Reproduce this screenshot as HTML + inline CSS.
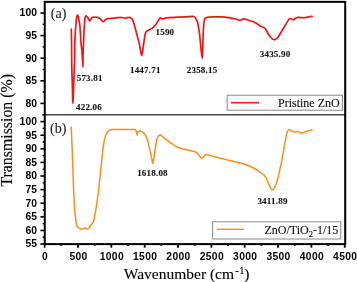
<!DOCTYPE html>
<html><head><meta charset="utf-8"><style>
html,body{margin:0;padding:0;background:#fff;}
body{width:357px;height:282px;overflow:hidden;}
svg{display:block;will-change:transform;}
.tk{font-family:"Liberation Sans",sans-serif;font-weight:bold;font-size:10.3px;letter-spacing:0.35px;fill:#000;}
.pk{font-family:"Liberation Serif",serif;font-weight:bold;font-size:9px;letter-spacing:0.2px;fill:#111;stroke:#111;stroke-width:0.1px;}
.pl{font-family:"Liberation Serif",serif;font-size:14px;fill:#222;stroke:#222;stroke-width:0.1px;}
.lg{font-family:"Liberation Serif",serif;font-size:12px;fill:#111;stroke:#111;stroke-width:0.12px;}
.ax{font-family:"Liberation Serif",serif;fill:#000;stroke:#000;stroke-width:0.12px;}
</style></head><body>
<svg width="357" height="282" viewBox="0 0 357 282">
<path d="M71.30,29.00 C71.35,31.50 71.53,38.17 71.60,44.00 C71.67,49.83 71.62,58.33 71.70,64.00 C71.78,69.67 71.98,74.00 72.10,78.00 C72.22,82.00 72.32,85.00 72.40,88.00 C72.48,91.00 72.52,93.42 72.60,96.00 C72.68,98.58 72.78,103.50 72.90,103.50 C73.02,103.50 73.18,98.58 73.30,96.00 C73.42,93.42 73.50,91.00 73.60,88.00 C73.70,85.00 73.78,81.33 73.90,78.00 C74.02,74.67 74.18,71.67 74.30,68.00 C74.42,64.33 74.52,60.00 74.60,56.00 C74.68,52.00 74.70,47.67 74.80,44.00 C74.90,40.33 75.02,37.25 75.20,34.00 C75.38,30.75 75.67,27.17 75.90,24.50 C76.13,21.83 76.35,19.57 76.60,18.00 C76.81,16.66 77.12,15.35 77.40,15.10 C77.68,14.85 78.09,15.78 78.30,16.50 C78.58,17.48 78.83,19.42 79.10,21.00 C79.37,22.58 79.68,24.00 79.90,26.00 C80.12,28.00 80.25,30.67 80.40,33.00 C80.55,35.33 80.65,37.83 80.80,40.00 C80.95,42.17 81.12,44.17 81.30,46.00 C81.48,47.83 81.72,49.00 81.90,51.00 C82.08,53.00 82.23,55.33 82.40,58.00 C82.57,60.67 82.80,67.00 82.90,67.00 C83.00,67.00 82.95,60.83 83.00,58.00 C83.05,55.17 83.13,52.00 83.20,50.00 C83.26,48.20 83.32,47.67 83.40,46.00 C83.48,44.33 83.60,42.50 83.70,40.00 C83.80,37.50 83.88,33.50 84.00,31.00 C84.12,28.50 84.25,27.08 84.40,25.00 C84.55,22.92 84.63,20.02 84.90,18.50 C85.12,17.25 85.53,16.07 86.00,15.90 C86.47,15.73 87.10,16.68 87.70,17.50 C88.30,18.32 89.05,20.58 89.60,20.80 C90.15,21.02 90.52,19.38 91.00,18.80 C91.48,18.22 91.57,17.51 92.50,17.30 C93.60,17.05 96.27,17.02 97.60,17.30 C98.93,17.58 99.57,18.28 100.50,19.00 C101.43,19.72 102.28,21.57 103.20,21.60 C104.12,21.63 105.07,19.72 106.00,19.20 C106.93,18.68 107.63,18.67 108.80,18.50 C109.97,18.33 111.12,18.40 113.00,18.20 C114.92,18.00 118.25,17.32 120.30,17.30 C122.35,17.28 123.77,18.10 125.30,18.10 C126.83,18.10 128.37,17.15 129.50,17.30 C130.63,17.45 131.34,17.83 132.10,19.00 C132.90,20.23 133.50,22.07 134.30,24.70 C135.13,27.45 136.25,32.28 137.10,35.50 C137.95,38.72 138.63,40.65 139.40,44.00 C140.17,47.35 141.00,55.60 141.70,55.60 C142.40,55.60 143.05,47.43 143.60,44.00 C144.15,40.57 144.57,37.07 145.00,35.00 C145.33,33.41 145.75,32.33 146.20,31.60 C146.62,30.91 147.07,30.93 147.70,30.60 C148.33,30.27 149.28,29.97 150.00,29.60 C150.72,29.23 151.33,28.92 152.00,28.40 C152.67,27.88 153.30,27.23 154.00,26.50 C154.70,25.77 155.53,24.92 156.20,24.00 C156.87,23.08 157.30,22.03 158.00,21.00 C158.70,19.97 159.63,18.15 160.40,17.80 C161.17,17.45 161.65,18.90 162.60,18.90 C163.55,18.90 164.46,17.98 166.10,17.80 C168.67,17.52 174.62,17.37 178.00,17.20 C181.38,17.03 183.83,16.92 186.40,16.80 C188.97,16.68 191.88,16.32 193.40,16.50 C194.53,16.64 194.85,16.97 195.50,17.90 C196.20,18.90 197.04,20.29 197.60,22.50 C198.27,25.12 199.00,29.85 199.50,33.60 C200.00,37.35 200.15,40.87 200.60,45.00 C201.05,49.13 201.83,58.40 202.20,58.40 C202.57,58.40 202.60,49.73 202.80,45.00 C203.00,40.27 203.20,33.75 203.40,30.00 C203.58,26.62 203.77,24.35 204.00,22.50 C204.21,20.85 204.30,19.77 204.80,18.90 C205.30,18.03 205.80,17.52 207.00,17.30 C208.78,16.97 213.05,16.97 215.50,16.90 C217.95,16.83 219.55,16.78 221.70,16.90 C223.85,17.02 226.43,17.32 228.40,17.60 C230.37,17.88 232.10,18.32 233.50,18.60 C234.90,18.88 235.73,19.02 236.80,19.30 C237.87,19.58 238.77,20.37 239.90,20.30 C241.03,20.23 242.15,18.90 243.60,18.90 C245.05,18.90 246.78,19.73 248.60,20.30 C250.42,20.87 252.53,21.35 254.50,22.30 C256.47,23.25 258.62,24.97 260.40,26.00 C262.18,27.03 263.93,27.25 265.20,28.50 C266.47,29.75 267.12,32.08 268.00,33.50 C268.88,34.92 269.73,36.08 270.50,37.00 C271.27,37.92 271.85,38.57 272.60,39.00 C273.35,39.43 274.17,39.80 275.00,39.60 C275.83,39.40 276.72,38.92 277.60,37.80 C278.73,36.37 280.40,33.30 281.80,31.00 C283.20,28.70 284.73,26.02 286.00,24.00 C287.27,21.98 288.47,19.75 289.40,18.90 C290.13,18.23 290.90,18.75 291.60,18.90 C292.30,19.05 292.85,19.93 293.60,19.80 C294.35,19.67 295.40,18.52 296.10,18.10 C296.80,17.68 297.10,17.38 297.80,17.30 C298.50,17.22 299.17,17.55 300.30,17.60 C301.55,17.65 303.90,17.72 305.30,17.60 C306.70,17.48 307.57,17.10 308.70,16.90 C309.83,16.70 311.53,16.48 312.10,16.40" fill="none" stroke="#f51414" stroke-width="1.7" stroke-linejoin="round" stroke-linecap="round"/>
<path d="M71.20,127.30 C71.37,131.08 71.92,142.88 72.20,150.00 C72.48,157.12 72.67,163.33 72.90,170.00 C73.13,176.67 73.35,184.17 73.60,190.00 C73.85,195.83 74.17,201.17 74.40,205.00 C74.62,208.60 74.82,211.00 75.00,213.00 C75.17,214.81 75.33,215.50 75.50,217.00 C75.67,218.50 75.73,220.45 76.00,222.00 C76.27,223.55 76.67,225.32 77.10,226.30 C77.50,227.20 77.90,227.40 78.60,227.90 C79.30,228.40 80.50,229.18 81.30,229.30 C82.10,229.42 82.78,228.83 83.40,228.60 C84.02,228.37 84.28,227.83 85.00,227.90 C85.72,227.97 86.98,229.05 87.70,229.00 C88.42,228.95 88.68,228.32 89.30,227.60 C89.92,226.88 90.68,225.72 91.40,224.70 C92.12,223.68 93.07,223.02 93.60,221.50 C94.13,219.98 94.22,217.63 94.60,215.60 C94.98,213.57 95.53,211.40 95.90,209.30 C96.27,207.20 96.39,205.83 96.80,203.00 C97.22,200.12 97.92,195.83 98.40,192.00 C98.88,188.17 99.30,183.67 99.70,180.00 C100.10,176.33 100.50,172.90 100.80,170.00 C101.10,167.10 101.14,165.93 101.50,162.60 C101.90,158.88 102.68,151.62 103.20,147.70 C103.71,143.81 104.10,141.33 104.60,139.10 C105.10,136.88 105.62,135.60 106.20,134.30 C106.78,133.00 107.47,132.02 108.10,131.30 C108.73,130.58 109.35,130.28 110.00,130.00 C110.65,129.72 111.08,129.64 112.00,129.60 C113.67,129.53 116.40,129.60 120.00,129.60 C123.70,129.60 131.48,129.33 134.20,129.60 C135.38,129.72 135.82,130.28 136.30,131.20 C136.78,132.12 136.85,134.95 137.10,135.10 C137.35,135.25 137.25,132.78 137.80,132.10 C138.35,131.42 139.50,130.95 140.40,131.00 C141.30,131.05 142.22,131.39 143.20,132.40 C144.22,133.45 145.53,134.83 146.50,137.30 C147.55,139.97 148.60,144.77 149.50,148.40 C150.40,152.03 151.35,156.58 151.90,159.10 C152.33,161.07 152.45,163.80 152.80,163.50 C153.15,163.20 153.55,160.11 154.00,157.30 C154.50,154.20 155.22,148.20 155.80,144.90 C156.38,141.60 156.77,139.18 157.50,137.50 C158.19,135.92 159.03,134.67 160.20,134.80 C161.37,134.93 163.03,137.17 164.50,138.30 C165.97,139.43 167.50,140.52 169.00,141.60 C170.50,142.68 172.00,143.87 173.50,144.80 C175.00,145.73 176.58,146.55 178.00,147.20 C179.42,147.85 180.67,148.30 182.00,148.70 C183.33,149.10 184.37,149.22 186.00,149.60 C187.63,149.98 190.13,150.57 191.80,151.00 C193.47,151.43 194.82,151.55 196.00,152.20 C197.18,152.85 198.13,154.00 198.90,154.90 C199.67,155.80 200.12,157.02 200.60,157.60 C201.01,158.10 201.40,158.40 201.80,158.40 C202.20,158.40 202.55,158.07 203.00,157.60 C203.50,157.08 204.20,155.80 204.80,155.30 C205.40,154.80 205.74,154.47 206.60,154.60 C208.08,154.82 211.12,155.93 213.70,156.60 C216.28,157.27 219.38,157.93 222.10,158.60 C224.82,159.27 227.38,159.95 230.00,160.60 C232.62,161.25 235.20,161.85 237.80,162.50 C240.40,163.15 243.00,163.58 245.60,164.50 C248.20,165.42 250.97,166.70 253.40,168.00 C255.83,169.30 258.25,170.93 260.20,172.30 C262.15,173.67 263.80,174.58 265.10,176.20 C266.40,177.82 267.10,180.05 268.00,182.00 C268.90,183.95 269.75,186.60 270.50,187.90 C271.12,188.98 271.85,189.80 272.50,189.80 C273.15,189.80 273.82,188.96 274.40,187.90 C275.12,186.60 275.97,184.74 276.80,182.00 C277.68,179.07 278.85,173.92 279.70,170.30 C280.55,166.68 281.18,164.02 281.90,160.30 C282.62,156.58 283.32,151.92 284.00,148.00 C284.68,144.08 285.40,139.63 286.00,136.80 C286.56,134.15 287.05,132.20 287.60,131.00 C288.01,130.10 288.60,129.60 289.30,129.60 C290.00,129.60 290.87,130.55 291.80,131.00 C292.73,131.45 294.00,132.25 294.90,132.30 C295.80,132.35 296.45,131.30 297.20,131.30 C297.95,131.30 298.67,131.98 299.40,132.30 C300.13,132.62 300.62,133.28 301.60,133.20 C302.58,133.12 304.12,132.23 305.30,131.80 C306.48,131.37 307.58,130.93 308.70,130.60 C309.82,130.27 311.45,129.93 312.00,129.80" fill="none" stroke="#ff8c1a" stroke-width="1.5" stroke-linejoin="round" stroke-linecap="round"/>
<line x1="44.75" y1="114.75" x2="345.2" y2="114.75" stroke="#444" stroke-width="1.4"/>
<rect x="44.75" y="1.85" width="300.45" height="242.25" fill="none" stroke="#000" stroke-width="2"/>
<line x1="40.4" y1="13.00" x2="44.75" y2="13.00" stroke="#000" stroke-width="1.6"/>
<line x1="40.4" y1="35.60" x2="44.75" y2="35.60" stroke="#000" stroke-width="1.6"/>
<line x1="40.4" y1="58.20" x2="44.75" y2="58.20" stroke="#000" stroke-width="1.6"/>
<line x1="40.4" y1="80.80" x2="44.75" y2="80.80" stroke="#000" stroke-width="1.6"/>
<line x1="40.4" y1="103.40" x2="44.75" y2="103.40" stroke="#000" stroke-width="1.6"/>
<line x1="42.6" y1="24.30" x2="44.75" y2="24.30" stroke="#000" stroke-width="1.4"/>
<line x1="42.6" y1="46.90" x2="44.75" y2="46.90" stroke="#000" stroke-width="1.4"/>
<line x1="42.6" y1="69.50" x2="44.75" y2="69.50" stroke="#000" stroke-width="1.4"/>
<line x1="42.6" y1="92.10" x2="44.75" y2="92.10" stroke="#000" stroke-width="1.4"/>
<line x1="42.6" y1="114.70" x2="44.75" y2="114.70" stroke="#000" stroke-width="1.4"/>
<line x1="40.4" y1="121.60" x2="44.75" y2="121.60" stroke="#000" stroke-width="1.6"/>
<line x1="40.4" y1="135.20" x2="44.75" y2="135.20" stroke="#000" stroke-width="1.6"/>
<line x1="40.4" y1="148.81" x2="44.75" y2="148.81" stroke="#000" stroke-width="1.6"/>
<line x1="40.4" y1="162.41" x2="44.75" y2="162.41" stroke="#000" stroke-width="1.6"/>
<line x1="40.4" y1="176.02" x2="44.75" y2="176.02" stroke="#000" stroke-width="1.6"/>
<line x1="40.4" y1="189.62" x2="44.75" y2="189.62" stroke="#000" stroke-width="1.6"/>
<line x1="40.4" y1="203.23" x2="44.75" y2="203.23" stroke="#000" stroke-width="1.6"/>
<line x1="40.4" y1="216.83" x2="44.75" y2="216.83" stroke="#000" stroke-width="1.6"/>
<line x1="40.4" y1="230.44" x2="44.75" y2="230.44" stroke="#000" stroke-width="1.6"/>
<line x1="40.4" y1="244.05" x2="44.75" y2="244.05" stroke="#000" stroke-width="1.6"/>
<line x1="42.6" y1="114.80" x2="44.75" y2="114.80" stroke="#000" stroke-width="1.4"/>
<line x1="42.6" y1="128.40" x2="44.75" y2="128.40" stroke="#000" stroke-width="1.4"/>
<line x1="42.6" y1="142.01" x2="44.75" y2="142.01" stroke="#000" stroke-width="1.4"/>
<line x1="42.6" y1="155.61" x2="44.75" y2="155.61" stroke="#000" stroke-width="1.4"/>
<line x1="42.6" y1="169.22" x2="44.75" y2="169.22" stroke="#000" stroke-width="1.4"/>
<line x1="42.6" y1="182.82" x2="44.75" y2="182.82" stroke="#000" stroke-width="1.4"/>
<line x1="42.6" y1="196.43" x2="44.75" y2="196.43" stroke="#000" stroke-width="1.4"/>
<line x1="42.6" y1="210.03" x2="44.75" y2="210.03" stroke="#000" stroke-width="1.4"/>
<line x1="42.6" y1="223.64" x2="44.75" y2="223.64" stroke="#000" stroke-width="1.4"/>
<line x1="42.6" y1="237.24" x2="44.75" y2="237.24" stroke="#000" stroke-width="1.4"/>
<line x1="44.65" y1="244.1" x2="44.65" y2="247.7" stroke="#000" stroke-width="1.8"/>
<line x1="78.00" y1="244.1" x2="78.00" y2="247.7" stroke="#000" stroke-width="1.8"/>
<line x1="111.34" y1="244.1" x2="111.34" y2="247.7" stroke="#000" stroke-width="1.8"/>
<line x1="144.69" y1="244.1" x2="144.69" y2="247.7" stroke="#000" stroke-width="1.8"/>
<line x1="178.03" y1="244.1" x2="178.03" y2="247.7" stroke="#000" stroke-width="1.8"/>
<line x1="211.38" y1="244.1" x2="211.38" y2="247.7" stroke="#000" stroke-width="1.8"/>
<line x1="244.72" y1="244.1" x2="244.72" y2="247.7" stroke="#000" stroke-width="1.8"/>
<line x1="278.06" y1="244.1" x2="278.06" y2="247.7" stroke="#000" stroke-width="1.8"/>
<line x1="311.41" y1="244.1" x2="311.41" y2="247.7" stroke="#000" stroke-width="1.8"/>
<line x1="344.75" y1="244.1" x2="344.75" y2="247.7" stroke="#000" stroke-width="1.8"/>
<line x1="61.32" y1="244.1" x2="61.32" y2="245.9" stroke="#000" stroke-width="1.6"/>
<line x1="94.67" y1="244.1" x2="94.67" y2="245.9" stroke="#000" stroke-width="1.6"/>
<line x1="128.01" y1="244.1" x2="128.01" y2="245.9" stroke="#000" stroke-width="1.6"/>
<line x1="161.36" y1="244.1" x2="161.36" y2="245.9" stroke="#000" stroke-width="1.6"/>
<line x1="194.70" y1="244.1" x2="194.70" y2="245.9" stroke="#000" stroke-width="1.6"/>
<line x1="228.05" y1="244.1" x2="228.05" y2="245.9" stroke="#000" stroke-width="1.6"/>
<line x1="261.39" y1="244.1" x2="261.39" y2="245.9" stroke="#000" stroke-width="1.6"/>
<line x1="294.74" y1="244.1" x2="294.74" y2="245.9" stroke="#000" stroke-width="1.6"/>
<line x1="328.08" y1="244.1" x2="328.08" y2="245.9" stroke="#000" stroke-width="1.6"/>
<text x="37.2" y="16.30" text-anchor="end" class="tk" style="letter-spacing:0.15px">100</text>
<text x="37.2" y="38.90" text-anchor="end" class="tk" style="letter-spacing:0.15px">95</text>
<text x="37.2" y="61.50" text-anchor="end" class="tk" style="letter-spacing:0.15px">90</text>
<text x="37.2" y="84.10" text-anchor="end" class="tk" style="letter-spacing:0.15px">85</text>
<text x="37.2" y="106.70" text-anchor="end" class="tk" style="letter-spacing:0.15px">80</text>
<text x="37.2" y="124.90" text-anchor="end" class="tk" style="letter-spacing:0.15px">100</text>
<text x="37.2" y="138.50" text-anchor="end" class="tk" style="letter-spacing:0.15px">95</text>
<text x="37.2" y="152.11" text-anchor="end" class="tk" style="letter-spacing:0.15px">90</text>
<text x="37.2" y="165.72" text-anchor="end" class="tk" style="letter-spacing:0.15px">85</text>
<text x="37.2" y="179.32" text-anchor="end" class="tk" style="letter-spacing:0.15px">80</text>
<text x="37.2" y="192.93" text-anchor="end" class="tk" style="letter-spacing:0.15px">75</text>
<text x="37.2" y="206.53" text-anchor="end" class="tk" style="letter-spacing:0.15px">70</text>
<text x="37.2" y="220.13" text-anchor="end" class="tk" style="letter-spacing:0.15px">65</text>
<text x="37.2" y="233.74" text-anchor="end" class="tk" style="letter-spacing:0.15px">60</text>
<text x="37.2" y="247.35" text-anchor="end" class="tk" style="letter-spacing:0.15px">55</text>
<text x="45.15" y="259.8" text-anchor="middle" class="tk">0</text>
<text x="78.50" y="259.8" text-anchor="middle" class="tk">500</text>
<text x="111.84" y="259.8" text-anchor="middle" class="tk">1000</text>
<text x="145.19" y="259.8" text-anchor="middle" class="tk">1500</text>
<text x="178.53" y="259.8" text-anchor="middle" class="tk">2000</text>
<text x="211.88" y="259.8" text-anchor="middle" class="tk">2500</text>
<text x="245.22" y="259.8" text-anchor="middle" class="tk">3000</text>
<text x="278.56" y="259.8" text-anchor="middle" class="tk">3500</text>
<text x="311.91" y="259.8" text-anchor="middle" class="tk">4000</text>
<text x="345.25" y="259.8" text-anchor="middle" class="tk">4500</text>
<text x="89.70" y="81" text-anchor="middle" class="pk">573.81</text>
<text x="89.00" y="110.4" text-anchor="middle" class="pk">422.06</text>
<text x="145.30" y="73.3" text-anchor="middle" class="pk">1447.71</text>
<text x="164.90" y="34.6" text-anchor="middle" class="pk">1590</text>
<text x="202.10" y="73.4" text-anchor="middle" class="pk">2358.15</text>
<text x="275.10" y="56.5" text-anchor="middle" class="pk">3435.90</text>
<text x="152.50" y="176.1" text-anchor="middle" class="pk">1618.08</text>
<text x="272.50" y="204.1" text-anchor="middle" class="pk">3411.89</text>
<text x="50.8" y="17.8" class="pl">(a)</text>
<text x="50.0" y="132.8" class="pl">(b)</text>
<rect x="227.2" y="95.2" width="115.2" height="15" fill="#fff" stroke="#888" stroke-width="1"/>
<line x1="231" y1="102.7" x2="259" y2="102.7" stroke="#e8262b" stroke-width="1.7"/>
<text x="278" y="106.6" class="lg">Pristine ZnO</text>
<rect x="212.6" y="221.8" width="128.2" height="17.2" fill="#fff" stroke="#888" stroke-width="1"/>
<line x1="217" y1="229.3" x2="244.2" y2="229.3" stroke="#ff8c1a" stroke-width="1.4"/>
<text x="264.4" y="233.9" class="lg">ZnO/TiO<tspan dy="2.6" font-size="8.5">2</tspan><tspan dy="-2.6">-1/15</tspan></text>
<text x="123.8" y="278.7" class="ax" font-size="15.5">Wavenumber (cm<tspan dx="1.2" dy="-4.6" font-size="10.5">-</tspan><tspan dx="0.6" font-size="10.5">1</tspan><tspan dx="-0.2" dy="4.6">)</tspan></text>
<text transform="translate(12.1,186.6) rotate(-90)" x="0" y="0" class="ax" font-size="15.85">Transmission (%)</text>
</svg>
</body></html>
